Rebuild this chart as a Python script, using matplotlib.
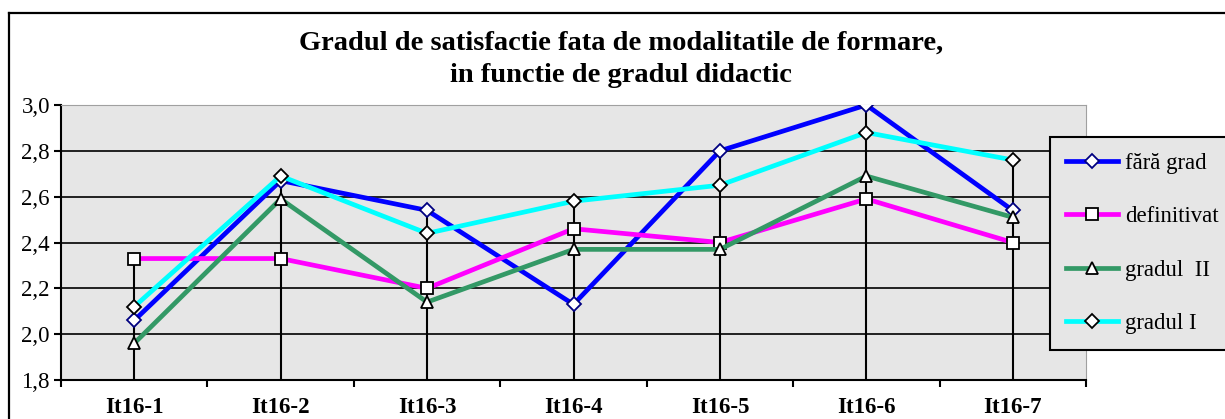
import numpy as np
import matplotlib.pyplot as plt
from matplotlib.lines import Line2D

# --- données ---
categories = ["It16-1", "It16-2", "It16-3", "It16-4", "It16-5", "It16-6", "It16-7"]
fara_grad = [2.06, 2.67, 2.54, 2.13, 2.80, 3.00, 2.54]
definitivat = [2.33, 2.33, 2.20, 2.46, 2.40, 2.59, 2.40]
gradul_II = [1.96, 2.59, 2.14, 2.37, 2.37, 2.69, 2.51]
gradul_I = [2.12, 2.69, 2.44, 2.58, 2.65, 2.88, 2.76]

series_names = ["fără grad", "definitivat", "gradul  II", "gradul I"]
series_vals = [fara_grad, definitivat, gradul_II, gradul_I]
colors = ["#0000FF", "#FF00FF", "#339966", "#00FFFF"]
markers = ["D", "s", "^", "D"]
marker_edges = ["#000080", "black", "black", "black"]
marker_sizes = [7, 8, 9, 7]

W, H = 1225, 419
plt.rcParams['font.family'] = ['Liberation Serif', 'DejaVu Serif']
fig = plt.figure(figsize=(W / 100, H / 100), dpi=100)

# cadre extérieur (gauche + haut)
fig.add_artist(Line2D([9 / W, 9 / W], [0, 1 - 13 / H], color="black", lw=1.6))
fig.add_artist(Line2D([9 / W, 1], [1 - 13 / H, 1 - 13 / H], color="black", lw=1.6))

fig.text(0.507, 1 - 43 / H, "Gradul de satisfactie fata de modalitatile de formare,",
         ha="center", va="center", fontsize=20.5, fontweight="bold")
fig.text(0.507, 1 - 76 / H, "in functie de gradul didactic",
         ha="center", va="center", fontsize=20.5, fontweight="bold")

left, right, top, bottom = 61, 1086, 105, 380
ax = fig.add_axes([left / W, 1 - bottom / H, (right - left) / W, (bottom - top) / H])
ax.set_facecolor("#E6E6E6")

x = np.arange(len(categories)) + 0.5
ax.set_xlim(0, len(categories))
ax.set_ylim(1.8, 3.0)

# grille horizontale
ax.set_yticks(np.arange(1.8, 3.01, 0.2))
ax.yaxis.grid(True, color="black", lw=1.2)
ax.set_axisbelow(True)
ax.set_yticklabels([f"{v:.1f}".replace(".", ",") for v in np.arange(1.8, 3.01, 0.2)],
                   fontsize=16.5)

# lignes de rappel (max de chaque catégorie)
maxima = np.max(np.array(series_vals), axis=0)
ax.vlines(x, 1.8, maxima, color="black", lw=1.5, zorder=2)

for name, vals, c, m, me, ms in zip(series_names, series_vals, colors, markers,
                                    marker_edges, marker_sizes):
    ax.plot(x, vals, color=c, lw=3.4, marker=m, markersize=ms, markerfacecolor="white",
            markeredgecolor=me, markeredgewidth=1.3, label=name, zorder=3)

ax.set_xticks(np.arange(0, len(categories) + 1))
ax.set_xticklabels([])
ax.set_xticks(x, minor=True)
ax.set_xticklabels(categories, minor=True, fontsize=16.5, fontweight="bold")
ax.tick_params(axis="x", which="minor", length=0, pad=12)
ax.tick_params(axis="x", which="major", length=5, width=1.5, direction="out")
ax.tick_params(axis="y", length=5, width=1.5, direction="out", pad=3)

ax.spines["left"].set_linewidth(1.5)
ax.spines["bottom"].set_linewidth(1.5)
ax.spines["top"].set_color("#A0A0A0")
ax.spines["right"].set_color("#A0A0A0")

leg = fig.legend(loc="upper left", bbox_to_anchor=(1050 / W, 1 - 137 / H), fontsize=16.4,
                 frameon=True, fancybox=False, edgecolor="black", facecolor="#E6E6E6",
                 framealpha=1, handlelength=2.3, labelspacing=1.42, borderpad=0.7,
                 handletextpad=0.3, borderaxespad=0)
leg.get_frame().set_linewidth(1.5)

fig.savefig("out.png", dpi=100)
